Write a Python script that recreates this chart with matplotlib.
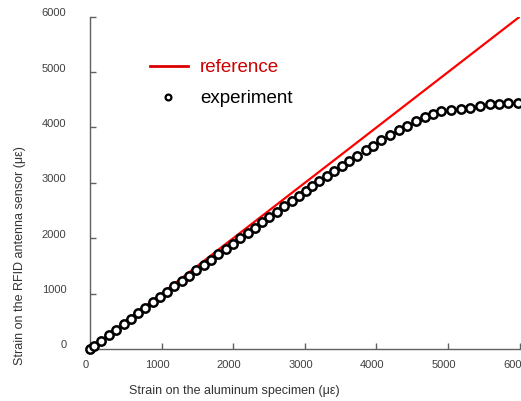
import numpy as np
import matplotlib
matplotlib.use("Agg")
import matplotlib.pyplot as plt
from matplotlib.transforms import ScaledTranslation

plt.rcParams['font.family'] = ['Liberation Sans', 'DejaVu Sans']

# donnees (micro-deformations)
ref_x = [0, 6000]
ref_y = [0, 6000]

exp_x = [0, 55, 160, 265, 365, 470, 570, 675, 775, 880, 980, 1080, 1180, 1285,
         1385, 1485, 1590, 1690, 1790, 1895, 1995, 2100, 2200, 2300, 2400, 2505,
         2605, 2710, 2820, 2916, 3010, 3102, 3200, 3303, 3409, 3512, 3618, 3735,
         3851, 3953, 4070, 4196, 4316, 4433, 4558, 4674, 4790, 4907, 5047, 5177,
         5312, 5442, 5581, 5711, 5842, 5976]
exp_y = [0, 45, 150, 252, 350, 452, 550, 650, 745, 845, 940, 1035, 1130, 1230,
         1325, 1420, 1520, 1615, 1710, 1810, 1900, 2000, 2095, 2190, 2285, 2385,
         2480, 2575, 2675, 2765, 2855, 2940, 3030, 3120, 3210, 3300, 3395, 3490,
         3585, 3670, 3765, 3860, 3950, 4030, 4110, 4180, 4240, 4300, 4320, 4335,
         4350, 4395, 4420, 4430, 4440, 4440]

ticks = [0, 1000, 2000, 3000, 4000, 5000, 6000]

fig = plt.figure(figsize=(5.21, 4.02), dpi=100)
ax = fig.add_axes([0.1727, 0.1294, 0.8248, 0.8266])

ax.plot(ref_x, ref_y, color='#ff0000', lw=1.6, zorder=2)
ax.plot(exp_x, exp_y, 'o', ms=6, mfc='white', mec='black', mew=1.8, zorder=3,
        clip_on=False)

ax.set_xlim(0, 6000)
ax.set_ylim(0, 6000)
ax.set_xticks(ticks)
ax.set_yticks(ticks)

for s in ['top', 'right']:
    ax.spines[s].set_visible(False)
for s in ['left', 'bottom']:
    ax.spines[s].set_color('#606060')
    ax.spines[s].set_linewidth(1.0)

ax.tick_params(direction='in', length=4, width=1, color='#606060',
               labelsize=8, labelcolor='#404040')
ax.tick_params(axis='y', pad=17)
ax.tick_params(axis='x', pad=7)

# decalage des etiquettes comme sur l'original
dy = ScaledTranslation(0, 4 / 72, fig.dpi_scale_trans)
for lab in ax.get_yticklabels():
    lab.set_transform(lab.get_transform() + dy)
dx = ScaledTranslation(-3 / 72, 0, fig.dpi_scale_trans)
for lab in ax.get_xticklabels():
    lab.set_transform(lab.get_transform() + dx)

fig.text(234.5 / 521, 1 - 391 / 402, 'Strain on the aluminum specimen (\u03bc\u03b5)',
         ha='center', va='center', fontsize=9, color='#333333')
fig.text(20 / 521, 1 - 256 / 402, 'Strain on the RFID antenna sensor (\u03bc\u03b5)',
         ha='center', va='center', rotation=90, fontsize=9, color='#333333')

# legende dessinee a la main
ax.plot([0.1396, 0.228], [0.8516, 0.8516], color='#dd0000', lw=2,
        transform=ax.transAxes, clip_on=False)
ax.text(0.256, 0.8516, 'reference', color='#cc0000', fontsize=13.5,
        va='center', ha='left', transform=ax.transAxes)
ax.plot([0.1815], [0.758], 'o', ms=4.2, mfc='white', mec='black', mew=1.6,
        transform=ax.transAxes, clip_on=False)
ax.text(0.256, 0.758, 'experiment', color='black', fontsize=13.5,
        va='center', ha='left', transform=ax.transAxes)

fig.savefig('out.png', dpi=100)
